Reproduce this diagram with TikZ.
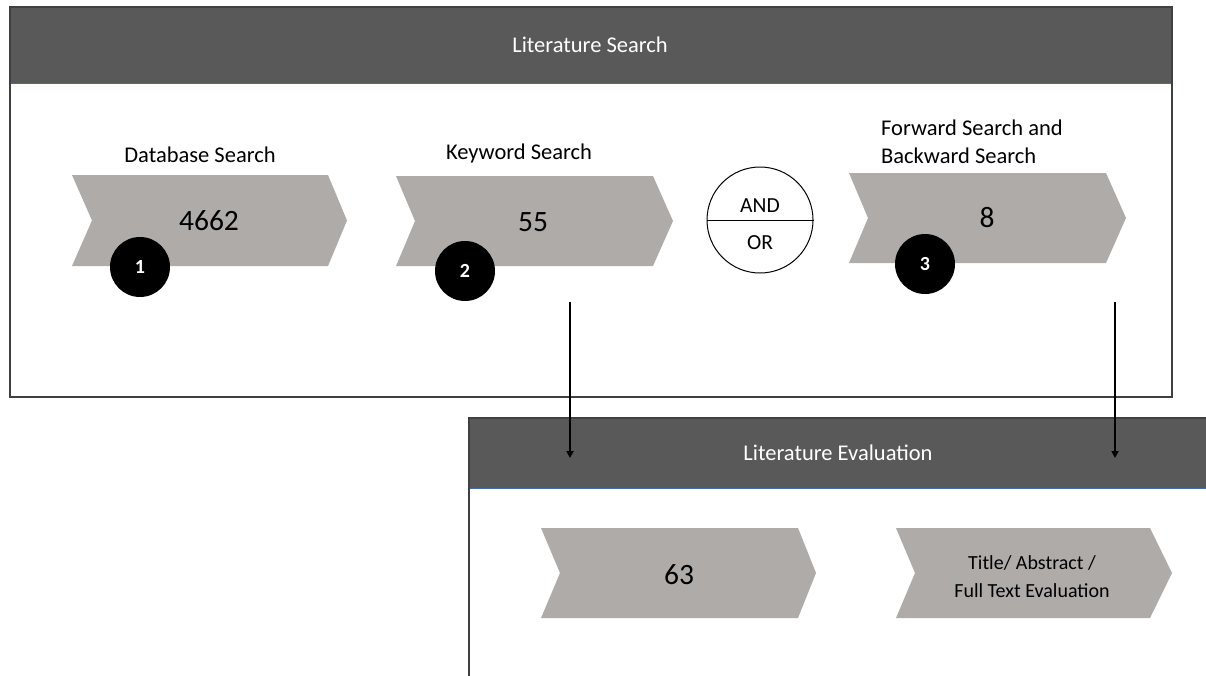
\documentclass[tikz,border=0pt]{standalone}
\usepackage{fontspec}
\setmainfont{Carlito}
\usetikzlibrary{arrows.meta}

\definecolor{headgray}{RGB}{89,89,89}
\definecolor{chevgray}{RGB}{174,171,169}
\definecolor{frameline}{RGB}{64,64,64}
\definecolor{headline}{RGB}{68,104,170}

\tikzset{
  panel/.style={draw=frameline, line width=1.3pt},
  header/.style={fill=headgray, draw=none},
  headrule/.style={draw=headline, line width=1pt},
  chev/.style={fill=chevgray, draw=none},
  headtext/.style={text=white, font=\fontsize{22.5}{27}\selectfont, inner sep=0pt},
  steplabel/.style={font=\fontsize{22.5}{28}\selectfont, inner sep=0pt},
  count/.style={font=\fontsize{29.5}{34}\selectfont, inner sep=0pt},
  badge/.style={circle, fill=black, minimum size=60pt, inner sep=0pt,
    text=white, font=\bfseries\fontsize{20}{24}\selectfont},
  joiner/.style={circle, draw=black, line width=1pt, fill=white,
    minimum size=106pt, inner sep=0pt},
  flow/.style={draw=black, line width=1.8pt,
    -{Triangle[length=7pt, width=7pt]}}
}

% chevron: #1 left, #2 notch, #3 flat end, #4 tip, #5 top, #6 bottom
\newcommand{\chevronpath}[6]{%
  \fill[chev] (#1,#5) -- (#3,#5) -- (#4,{(#5+#6)/2}) -- (#3,#6) -- (#1,#6)
    -- (#2,{(#5+#6)/2}) -- cycle;}

\begin{document}
\begin{tikzpicture}[x=1pt, y=-1pt]
\useasboundingbox (0,0) rectangle (1206,675);

% --- search panel ---
\fill[white] (10,7) rectangle (1172,397);
\fill[header] (10,7) rectangle (1172,83);
\draw[headrule] (10,83) -- (1172,83);
\draw[panel] (10,7) rectangle (1172,397);
\node[headtext] (searchhead) at (590,45) {Literature Search};

% step 1
\chevronpath{72}{92}{328}{347}{175}{266}
\node[steplabel] (dblabel) at (200,155) {Database Search};
\node[count] (dbcount) at (209,221) {4662};
\node[badge] (b1) at (140,267) {1};

% step 2
\chevronpath{396}{415}{653}{673}{176}{266}
\node[steplabel] (kwlabel) at (519,153) {Keyword Search};
\node[count] (kwcount) at (533,222) {55};
\node[badge] (b2) at (465,271) {2};

% AND / OR joiner
\node[joiner] (andor) at (760,220) {};
\draw[line width=1pt] (andor.west) -- (andor.east);
\node[steplabel, font=\fontsize{21.5}{26}\selectfont] (andtext) at (760,206) {AND};
\node[steplabel, font=\fontsize{21.5}{26}\selectfont] (ortext) at (760,243) {OR};

% step 3
\chevronpath{849}{868}{1106}{1126}{173}{263}
\node[steplabel, anchor=west, align=left, font=\fontsize{22.5}{28}\selectfont]
  (fblabel) at (881,142) {Forward Search and\\Backward Search};
\node[count] (fbcount) at (987,218) {8};
\node[badge] (b3) at (925,264) {3};

% --- evaluation panel ---
\fill[white] (469,418) rectangle (1210,680);
\fill[header] (469,418) rectangle (1210,488);
\draw[headrule] (469,488) -- (1210,488);
\draw[panel] (1210,418) -- (469,418) -- (469,680);
\node[headtext] (evalhead) at (838,453) {Literature Evaluation};

\chevronpath{541}{560}{798}{816}{528}{618}
\node[count] (evcount) at (679,575) {63};

\chevronpath{896}{915}{1150}{1172}{528}{618}
\node[align=center, inner sep=0pt, font=\fontsize{20}{28}\selectfont]
  (evtext) at (1032,577) {Title/ Abstract /\\Full Text Evaluation};

% --- hand-over arrows ---
\coordinate (kwout) at (570,302);
\coordinate (kwin) at (570,458);
\coordinate (fbout) at (1115,302);
\coordinate (fbin) at (1115,458);
\draw[flow] (kwout) -- (kwin);
\draw[flow] (fbout) -- (fbin);

\end{tikzpicture}
\end{document}
